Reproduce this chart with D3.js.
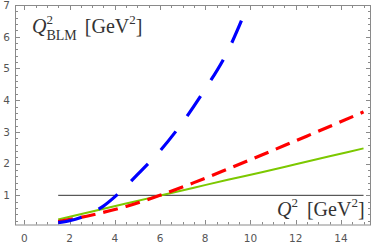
<!DOCTYPE html>
<html><head><meta charset="utf-8">
<script src="https://cdn.jsdelivr.net/npm/d3@7"></script>
<style>body{margin:0;background:#fff}svg{display:block}</style>
</head><body>
<script>
// Data
const q2Blue   = [1.5, 2, 2.5, 3, 3.5, 4, 5, 6, 7, 8, 9, 10];
const blueVals = [0.14, 0.2, 0.3, 0.45, 0.66, 0.95, 1.65, 2.4, 3.3, 4.35, 5.55, 7.2];
const q2Grid   = [1.5, 3, 4.5, 6, 7.5, 9, 10.5, 12, 13.5, 15];
const redVals  = [0.17, 0.38, 0.65, 1.0, 1.4, 1.83, 2.27, 2.72, 3.17, 3.63];
const greenVals= [0.24, 0.49, 0.74, 0.99, 1.24, 1.49, 1.73, 1.98, 2.23, 2.48];
const refLineX = [1.5, 15];
const refLineY = [1, 1];
const xTickLabels = [0, 2, 4, 6, 8, 10, 12, 14];
const yTickLabels = [1, 2, 3, 4, 5, 6, 7];

const W = 374, H = 243;
const L = 15, R = 371, T = 5, B = 224.5;
const svg = d3.select("body").append("svg").attr("width", W).attr("height", H);
const x = d3.scaleLinear().domain([-0.41, 15.33]).range([L, R]);
const y = d3.scaleLinear().domain([0.08, 7]).range([B, T]);

svg.append("defs").append("clipPath").attr("id","clip")
  .append("rect").attr("x", L).attr("y", T).attr("width", R-L).attr("height", B-T);

// frame
svg.append("rect").attr("x", L+0.5).attr("y", T+0.5).attr("width", R-L-1).attr("height", B-T)
  .attr("fill","none").attr("stroke","#8a8a8a").attr("stroke-width",1);

const tickCol = "#8a8a8a";
const xMinor = d3.range(0, 15.01, 0.5);
const yMinor = d3.range(0.2, 7.001, 0.2);
const tg = svg.append("g").attr("stroke", tickCol).attr("stroke-width", 1);
xMinor.forEach(v => {
  const major = Math.abs(v/2 - Math.round(v/2)) < 1e-6;
  const len = major ? 4.5 : 2.5;
  const px = Math.round(x(v)) + 0.5;
  tg.append("line").attr("x1", px).attr("x2", px).attr("y1", B).attr("y2", B-len);
  tg.append("line").attr("x1", px).attr("x2", px).attr("y1", T+0.5).attr("y2", T+0.5+len);
});
yMinor.forEach(v => {
  const major = Math.abs(v - Math.round(v)) < 1e-6;
  const len = major ? 4.5 : 2.5;
  const py = Math.round(y(v)) + 0.5;
  tg.append("line").attr("x1", L+0.5).attr("x2", L+0.5+len).attr("y1", py).attr("y2", py);
  tg.append("line").attr("x1", R-0.5).attr("x2", R-0.5-len).attr("y1", py).attr("y2", py);
});

// tick labels
const lab = svg.append("g").attr("font-family","DejaVu Sans, sans-serif")
  .attr("font-size", 10.5).attr("fill", "#555");
xTickLabels.forEach(v => lab.append("text").attr("x", x(v)).attr("y", 242)
  .attr("text-anchor","middle").text(v));
yTickLabels.forEach(v => lab.append("text").attr("x", 6.5).attr("y", y(v)+3.8)
  .attr("text-anchor","middle").text(v));

const g = svg.append("g").attr("clip-path","url(#clip)");
const line = d3.line().x(d => x(d[0])).y(d => y(d[1])).curve(d3.curveMonotoneX);

g.append("path").datum(d3.zip(refLineX, refLineY)).attr("d", d3.line().x(d=>x(d[0])).y(d=>y(d[1])))
  .attr("fill","none").attr("stroke","#333").attr("stroke-width",1);
g.append("path").datum(d3.zip(q2Grid, greenVals)).attr("d", line)
  .attr("fill","none").attr("stroke","#7cc800").attr("stroke-width",2);
g.append("path").datum(d3.zip(q2Grid, redVals)).attr("d", line)
  .attr("fill","none").attr("stroke","#ff0000").attr("stroke-width",3.2)
  .attr("stroke-dasharray","15,8");
g.append("path").datum(d3.zip(q2Blue, blueVals)).attr("d", line)
  .attr("fill","none").attr("stroke","#0000ff").attr("stroke-width",3.2)
  .attr("stroke-dasharray","24,19");

// axis titles
const serif = "Liberation Serif, Times New Roman, serif";
const t1 = svg.append("text").attr("x", 32).attr("y", 33).attr("font-family", serif)
  .attr("font-size", 20).attr("fill","#333");
t1.append("tspan").attr("font-style","italic").text("Q");
t1.append("tspan").attr("font-size", 13).attr("dy", -9).text("2");
t1.append("tspan").attr("font-size", 14).attr("dx", -6.5).attr("dy", 16).text("BLM");
t1.append("tspan").attr("dy", -7).attr("dx", 8).text("[GeV");
t1.append("tspan").attr("font-size", 13).attr("dy", -9).text("2");
t1.append("tspan").attr("dy", 9).text("]");

const t2 = svg.append("text").attr("x", 277).attr("y", 216).attr("font-family", serif)
  .attr("font-size", 20).attr("fill","#333");
t2.append("tspan").attr("font-style","italic").text("Q");
t2.append("tspan").attr("font-size", 13).attr("dy", -9).text("2");
t2.append("tspan").attr("dy", 9).attr("dx", 9).text("[GeV");
t2.append("tspan").attr("font-size", 13).attr("dy", -9).text("2");
t2.append("tspan").attr("dy", 9).text("]");
</script>
</body></html>
